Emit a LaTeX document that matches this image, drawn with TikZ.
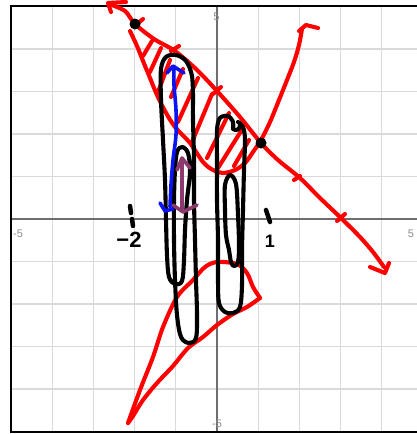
\documentclass[tikz,border=0pt]{standalone}
\usepackage{fontspec}
\setmainfont{Liberation Sans}
\definecolor{penred}{RGB}{255,0,0}
\definecolor{penblue}{RGB}{10,20,240}
\definecolor{penplum}{RGB}{140,58,110}
\definecolor{gridgray}{RGB}{218,218,218}
\definecolor{axisgray}{RGB}{110,110,110}
\definecolor{labgray}{RGB}{140,140,140}
\tikzset{
  pen/.style={line width=4.1pt, line cap=round, line join=round},
  redpen/.style={pen, draw=penred},
  blackpen/.style={pen, draw=black},
  bluepen/.style={pen, draw=penblue, line width=3.6pt},
  plumpen/.style={pen, draw=penplum, line width=3.6pt},
  gridline/.style={draw=gridgray, line width=1.3pt},
  axisline/.style={draw=axisgray, line width=2pt},
  ticklabel/.style={text=labgray, font=\fontsize{11}{12}\selectfont, inner sep=0pt},
  handlabel/.style={text=black, font=\bfseries\fontsize{22}{24}\selectfont, inner sep=0pt},
  dot/.style={circle, fill=black, inner sep=0pt, minimum size=11pt},
}
\begin{document}
\begin{tikzpicture}[x=1pt, y=-1pt]
\useasboundingbox (0,0) rectangle (417,434);
\clip (0,0) rectangle (417,434);
\fill[white] (0,0) rectangle (417,434);
% grid
\foreach \k in {-5,...,5} {
  \draw[gridline] ({217+41.2*\k},6) -- ({217+41.2*\k},432);
  \draw[gridline] (11,{219+42.5*\k}) -- (425,{219+42.5*\k});
}
% axes
\draw[axisline] (217,6) -- (217,432);
\draw[axisline] (11,219) -- (425,219);
% frame
\draw[line width=1.6pt] (425,6) -- (11,6) -- (11,432) -- (425,432);
% tick labels
\node[ticklabel] (ytop) at (216.5,16.5) {5};
\node[ticklabel] (ybot) at (217,424) {-5};
\node[ticklabel] (xleft) at (18,234) {-5};
\node[ticklabel] (xright) at (411,234) {5};

% red descending line
\draw[redpen] plot[smooth, tension=0.5] coordinates {(109,4) (125,11) (135,24) (154,39) (175,51) (197,70) (217,91) (240,117) (261,143) (278,160) (300,178) (320,198) (341,218) (360,237) (373,252) (384,267)};
% arrowheads of the line
\draw[redpen] (126,2) -- (108,3) -- (111,12);
\draw[redpen] (370,267) -- (385,273) -- (389,263);
% ticks on the line
\draw[redpen] (137,24) -- (143,19);
\draw[redpen] (171,51) -- (179,46);
\draw[redpen] (213,94) -- (221,87);
\draw[redpen] (294,180) -- (300,176);
\draw[redpen] (337,221) -- (345,214);

% red parabola
\draw[redpen] plot[smooth, tension=0.55] coordinates {(130,31) (137,46) (143,61) (150,78) (157,95) (165,111) (175,127) (190,143) (203,162) (213,170) (223,173) (235,170) (245,163) (253,152) (261,140) (270,122) (279,100) (287,80) (294,62) (299,45) (302,29)};
\draw[redpen] (299,31) -- (306,25) -- (318,28);

% hatching
\draw[redpen] (143,56) -- (152,41);
\draw[redpen] (150,72) -- (161,48);
\draw[redpen] (158,92) -- (170,60);
\draw[redpen] (171,97) -- (183,69);
\draw[redpen] (178,122) -- (198,78);
\draw[redpen] (192,142) -- (212,94);
\draw[redpen] (207,158) -- (229,113);
\draw[redpen] (218,168) -- (243,128);
\draw[redpen] (234,166) -- (249,140);

% red bottom shape
\draw[redpen] plot[smooth, tension=0.5] coordinates {(128,423) (140,390) (153,357) (163,327) (177,297) (193,280) (205,267) (217,262) (237,264) (247,273) (253,287) (260,298)};
\draw[redpen] plot[smooth, tension=0.5] coordinates {(260,298) (247,307) (233,314) (217,325) (203,337) (188,348) (173,366) (157,383) (143,400) (133,416) (128,423)};

% black loops (left)
\draw[blackpen] plot[smooth, tension=0.55] coordinates {(193,100) (192,76) (186,61) (176,55) (166,57) (161,69) (161,100) (163,140) (165,180) (166,220) (167,255) (169,277) (175,284) (182,281) (184,260) (185,230) (187,200) (190,172) (188,153) (182,147) (177,152) (175,170) (174,200) (174,240) (175,280) (177,315) (181,337) (189,343) (196,338) (197,315) (196,280) (195,240) (194,200) (194,160) (193,120) (193,100)};
% black loops (right)
\draw[blackpen] plot[smooth, tension=0.55] coordinates {(233,128) (233,122) (228,116) (220,118) (217,130) (217,160) (217,200) (218,240) (218,280) (219,303) (225,312) (233,313) (240,307) (242,285) (242,250) (243,210) (244,170) (245,140) (243,127) (238,122)};
\draw[blackpen] (233,129) .. controls (236,131) and (240,130) .. (240,125);
\draw[blackpen] plot[smooth cycle, tension=0.55] coordinates {(230,175) (236,184) (238,215) (239,245) (238,262) (234,266) (231,262) (229,250) (226,235) (225,210) (225,185)};

% axis marks drawn by hand
\draw[blackpen, line width=4.5pt] (130,206) -- (131,213) (132,219) -- (133,226);
\draw[blackpen, line width=4.5pt] (266,210) -- (270,222);
\node[handlabel] (lbm2) at (129,240) {−2};
\node[handlabel, font=\bfseries\fontsize{18}{20}\selectfont] (lb1) at (270,241) {1};

% blue arrow
\draw[bluepen] plot[smooth, tension=0.5] coordinates {(170,207) (171,185) (173,160) (176,135) (176,110) (174,85) (174,67)};
\draw[bluepen] (167,73) -- (173,66) -- (184,73);
\draw[bluepen] (160,203) -- (165,211) -- (173,209);

% plum arrow
\draw[plumpen] (182,160) -- (182,209);
\draw[plumpen] (177,170) -- (182,158) -- (190,168);
\draw[plumpen] (173,205) -- (183,212) -- (197,205);

% black dots
\node[dot] (d1) at (135,24) {};
\node[dot] (d2) at (261,143) {};
\end{tikzpicture}
\end{document}
